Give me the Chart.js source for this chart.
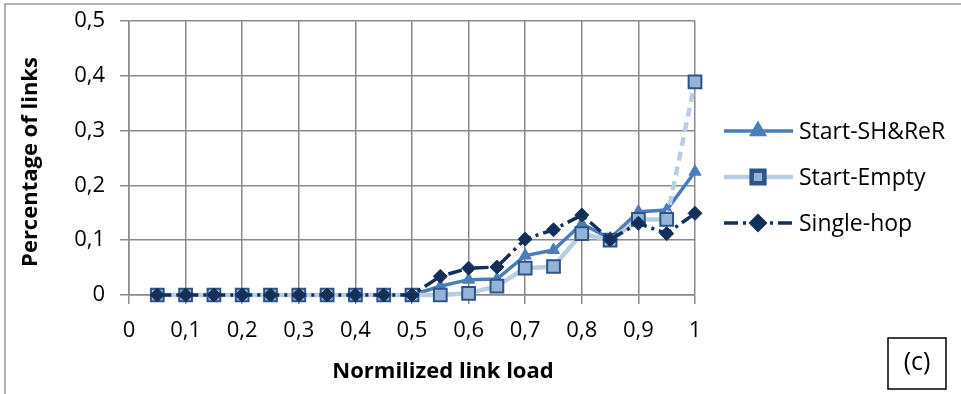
<!DOCTYPE html>
<html>
<head>
<meta charset="utf-8">
<script src="https://cdn.jsdelivr.net/npm/chart.js@4/dist/chart.umd.min.js"></script>
<style>
    html, body { margin: 0; padding: 0; background: #fff; }
    #contenedor { width: 961px; height: 394px; position: relative; }
</style>
</head>
<body>
<div id="contenedor"><canvas id="grafico"></canvas></div>
<script>
// Datos
const carga = [0.05, 0.1, 0.15, 0.2, 0.25, 0.3, 0.35, 0.4, 0.45, 0.5,
               0.55, 0.6, 0.65, 0.7, 0.75, 0.8, 0.85, 0.9, 0.95, 1];
const startShReR = [0, 0, 0, 0, 0, 0, 0, 0, 0, 0,
                    0.016, 0.028, 0.029, 0.072, 0.082, 0.13, 0.103, 0.152, 0.155, 0.225];
const startEmpty = [0, 0, 0, 0, 0, 0, 0, 0, 0, 0,
                    0, 0.003, 0.016, 0.049, 0.052, 0.112, 0.1, 0.138, 0.138, 0.389];
const singleHop = [0, 0, 0, 0, 0, 0, 0, 0, 0, 0,
                   0.034, 0.049, 0.051, 0.102, 0.119, 0.146, 0.101, 0.131, 0.112, 0.149];
const nombres = ["Start-SH&ReR", "Start-Empty", "Single-hop"];
const ticksY = ["0", "0,1", "0,2", "0,3", "0,4", "0,5"];
const ticksX = ["0", "0,1", "0,2", "0,3", "0,4", "0,5", "0,6", "0,7", "0,8", "0,9", "1"];
const tituloX = "Normilized link load";
const tituloY = "Percentage of links";
const etiqueta = "(c)";

const fuente = '"Open Sans", sans-serif';
const gris = "#8a8a8a";

const puntos = (serie) => serie.map((v, i) => ({ x: carga[i], y: v }));

// Marco, títulos de ejes, leyenda y recuadro "(c)"
const decorado = {
    id: "decorado",
    beforeDraw(chart) {
        const ctx = chart.ctx;
        ctx.save();
        ctx.strokeStyle = "#9a9a9a";
        ctx.lineWidth = 1.5;
        ctx.beginPath();
        ctx.moveTo(5, 394);
        ctx.lineTo(5, 4);
        ctx.lineTo(961, 4);
        ctx.stroke();
        ctx.restore();
    },
    afterDraw(chart) {
        const ctx = chart.ctx;
        const area = chart.chartArea;
        ctx.save();
        ctx.fillStyle = "#000";
        ctx.textBaseline = "middle";
        ctx.textAlign = "center";
        ctx.font = "bold 22px " + fuente;
        ctx.fillText(tituloX, 443, 372);
        ctx.save();
        ctx.translate(31, 162);
        ctx.rotate(-Math.PI / 2);
        ctx.fillText(tituloY, 0, 0);
        ctx.restore();

        // Leyenda
        ctx.font = "23px " + fuente;
        ctx.textAlign = "left";
        const x0 = area.right + 29;
        chart.data.datasets.forEach((ds, i) => {
            const y = 131 + i * 46;
            ctx.save();
            ctx.strokeStyle = ds.borderColor;
            ctx.lineWidth = ds.borderWidth;
            ctx.setLineDash(ds.borderDash || []);
            ctx.beginPath();
            ctx.moveTo(x0, y);
            ctx.lineTo(x0 + 69, y);
            ctx.stroke();
            ctx.setLineDash([]);
            ctx.fillStyle = ds.pointBackgroundColor;
            ctx.strokeStyle = ds.pointBorderColor;
            Chart.helpers.drawPoint(ctx, {
                pointStyle: ds.pointStyle,
                radius: ds.pointRadius,
                rotation: 0,
                borderWidth: ds.pointBorderWidth
            }, x0 + 34, y);
            ctx.restore();
            ctx.fillStyle = "#000";
            ctx.fillText(ds.label, x0 + 75, y + 1);
        });

        // Recuadro (c)
        ctx.strokeStyle = "#000";
        ctx.lineWidth = 1.5;
        ctx.strokeRect(888, 338, 58, 51);
        ctx.textAlign = "center";
        ctx.font = "25px " + fuente;
        ctx.fillText(etiqueta, 917, 363);
        ctx.restore();
    }
};

new Chart(document.getElementById("grafico"), {
    type: "line",
    data: {
        datasets: [{
            label: nombres[0],
            data: puntos(startShReR),
            borderColor: "#4a7ebb",
            borderWidth: 3.5,
            pointStyle: "triangle",
            pointRadius: 7,
            pointBackgroundColor: "#4a7ebb",
            pointBorderColor: "#4a7ebb",
            pointBorderWidth: 1,
            order: 2,
            clip: false
        }, {
            label: nombres[1],
            data: puntos(startEmpty),
            borderColor: "#b9cde5",
            borderWidth: 4.5,
            pointStyle: "rect",
            pointRadius: 9,
            pointBackgroundColor: "#95b3d7",
            pointBorderColor: "#2c5489",
            pointBorderWidth: 2,
            segment: {
                borderDash: (c) => (c.p1DataIndex === carga.length - 1 ? [9, 6] : undefined)
            },
            order: 1,
            clip: false
        }, {
            label: nombres[2],
            data: puntos(singleHop),
            borderColor: "#14305a",
            borderWidth: 3.5,
            borderDash: [14, 5, 3, 5],
            pointStyle: "rectRot",
            pointRadius: 7,
            pointBackgroundColor: "#14305a",
            pointBorderColor: "#14305a",
            pointBorderWidth: 1,
            order: 0,
            clip: false
        }]
    },
    options: {
        responsive: true,
        maintainAspectRatio: false,
        animation: false,
        layout: { padding: { left: 0, right: 266, top: 21, bottom: 0 } },
        plugins: {
            legend: { display: false },
            tooltip: { enabled: false }
        },
        elements: { line: { tension: 0 } },
        scales: {
            x: {
                type: "linear",
                min: 0,
                max: 1,
                afterFit: (escala) => { escala.height = 99; },
                grid: { color: gris, lineWidth: 1.5, tickLength: 9 },
                border: { color: gris, width: 1.5 },
                ticks: {
                    stepSize: 0.1,
                    autoSkip: false,
                    maxRotation: 0,
                    padding: 14,
                    color: "#000",
                    font: { family: fuente, size: 22 },
                    callback: (v) => ticksX[Math.round(v * 10)]
                }
            },
            y: {
                min: 0,
                max: 0.5,
                afterFit: (escala) => {
                    escala.width = 129;
                    escala.paddingTop = 0;
                    escala.paddingBottom = 0;
                },
                grid: { color: gris, lineWidth: 1.5, tickLength: 9 },
                border: { color: gris, width: 1.5 },
                ticks: {
                    stepSize: 0.1,
                    padding: 15,
                    color: "#000",
                    font: { family: fuente, size: 22 },
                    callback: (v) => ticksY[Math.round(v * 10)]
                }
            }
        }
    },
    plugins: [decorado]
});
</script>
</body>
</html>
